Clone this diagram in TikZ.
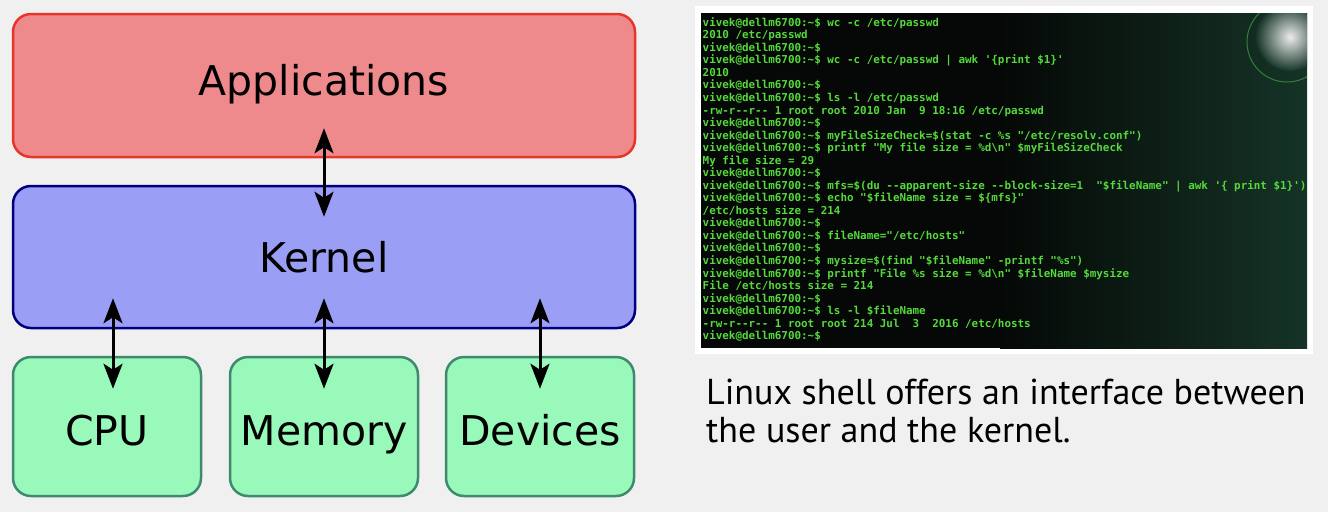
\documentclass[tikz,border=0pt]{standalone}
\usepackage{fontspec}
\usetikzlibrary{arrows.meta, positioning, calc}
\newfontfamily\diagfont{DejaVu Sans}
\newfontfamily\termfont{DejaVu Sans Mono}[Ligatures=TeXOff]
\newfontfamily\capfont{PT Sans}
\definecolor{kpage}{HTML}{F0F0F0}
\definecolor{kappfill}{HTML}{EF8A8C}
\definecolor{kappdraw}{HTML}{E8352A}
\definecolor{kkernfill}{HTML}{9B9EF5}
\definecolor{kkerndraw}{HTML}{00007F}
\definecolor{khwfill}{HTML}{98F9BA}
\definecolor{khwdraw}{HTML}{3F8A6E}
\definecolor{ktermbg}{HTML}{050806}
\definecolor{ktermglow}{HTML}{163528}
\definecolor{ktermtext}{HTML}{55D93C}
\newcommand{\shprompt}{vivek@dellm6700:\textasciitilde\$}
\tikzset{
  layerbox/.style={rounded corners=18pt, line width=2.5pt, inner sep=0pt},
  appbox/.style={layerbox, draw=kappdraw, fill=kappfill,
                 minimum width=622pt, minimum height=143pt},
  kernbox/.style={layerbox, draw=kkerndraw, fill=kkernfill,
                  minimum width=622pt, minimum height=142pt},
  hwbox/.style={layerbox, draw=khwdraw, fill=khwfill,
                minimum width=188pt, minimum height=139pt},
  lbl/.style={anchor=base, inner sep=0pt, font=\diagfont\fontsize{41}{49}\selectfont},
  biarr/.style={{Stealth[length=25pt, width=19pt, inset=6pt]}-{Stealth[length=25pt, width=19pt, inset=6pt]},
                line width=3pt, black},
  termtxt/.style={anchor=north west, align=left, inner sep=0pt, text=ktermtext,
                  font=\termfont\bfseries\fontsize{10.9}{12.54}\selectfont},
  captxt/.style={anchor=base west, inner sep=0pt, font=\capfont\fontsize{36}{41}\selectfont},
}
\begin{document}
\begin{tikzpicture}[x=1pt, y=-1pt]
  \useasboundingbox (0,0) rectangle (1328,512);
  \fill[kpage] (0,0) rectangle (1328,512);

  % layers
  \node[appbox] (app) at (324, 85.5) {};
  \node[kernbox] (kern) at (324, 257) {};
  \node[hwbox] (cpu) at (107, 426.5) {};
  \node[hwbox] (mem) at (324, 426.5) {};
  \node[hwbox] (dev) at (540, 426.5) {};

  \node[lbl] (applbl) at (324, 95) {Applications};
  \node[lbl] (kernlbl) at (324, 272) {Kernel};
  \node[lbl] (cpulbl) at (107, 445) {CPU};
  \node[lbl] (memlbl) at (324, 445) {Memory};
  \node[lbl] (devlbl) at (540, 445) {Devices};

  \draw[biarr] ($(app.south)+(0,-30)$) -- ($(kern.north)+(0,32)$);
  \draw[biarr] ($(cpu.north |- kern.south)+(6,-31)$) -- ($(cpu.north)+(6,33)$);
  \draw[biarr] ($(kern.south)+(0,-31)$) -- ($(mem.north)+(0,33)$);
  \draw[biarr] ($(dev.north |- kern.south)+(0,-31)$) -- ($(dev.north)+(0,33)$);

  % terminal screenshot
  \fill[white] (695,6) rectangle (1313,354);
  \begin{scope}
    \clip (701,13) rectangle (1307,348);
    \fill[ktermbg] (701,13) rectangle (1307,348);
    \shade[left color=ktermbg, right color=ktermglow] (1000,0) rectangle (1320,360);
    \shade[inner color=white!85!gray, outer color=ktermglow] (1290,37) circle (34);
    \draw[green!45!gray, opacity=.6, line width=1pt] (1287,42) circle (40);
  \end{scope}
  \node[termtxt] (term) at (702.5, 17.2) {%
    \shprompt\ wc -c /etc/passwd\\
    2010 /etc/passwd\\
    \shprompt\\
    \shprompt\ wc -c /etc/passwd | awk '\{print \$1\}'\\
    2010\\
    \shprompt\\
    \shprompt\ ls -l /etc/passwd\\
    -rw-r--r-- 1 root root 2010 Jan\ \ 9 18:16 /etc/passwd\\
    \shprompt\\
    \shprompt\ myFileSizeCheck=\$(stat -c \%s "/etc/resolv.conf")\\
    \shprompt\ printf "My file size = \%d\textbackslash n" \$myFileSizeCheck\\
    My file size = 29\\
    \shprompt\\
    \shprompt\ mfs=\$(du --apparent-size --block-size=1\ \ "\$fileName" | awk '\{ print \$1\}')\\
    \shprompt\ echo "\$fileName size = \$\{mfs\}"\\
    /etc/hosts size = 214\\
    \shprompt\\
    \shprompt\ fileName="/etc/hosts"\\
    \shprompt\\
    \shprompt\ mysize=\$(find "\$fileName" -printf "\%s")\\
    \shprompt\ printf "File \%s size = \%d\textbackslash n" \$fileName \$mysize\\
    File /etc/hosts size = 214\\
    \shprompt\\
    \shprompt\ ls -l \$fileName\\
    -rw-r--r-- 1 root root 214 Jul\ \ 3\ \ 2016 /etc/hosts\\
    \shprompt};

  \node[captxt] (cap1) at (706, 404) {Linux shell offers an interface between};
  \node[captxt] (cap2) at (706, 442) {the user and the kernel.};
\end{tikzpicture}
\end{document}
